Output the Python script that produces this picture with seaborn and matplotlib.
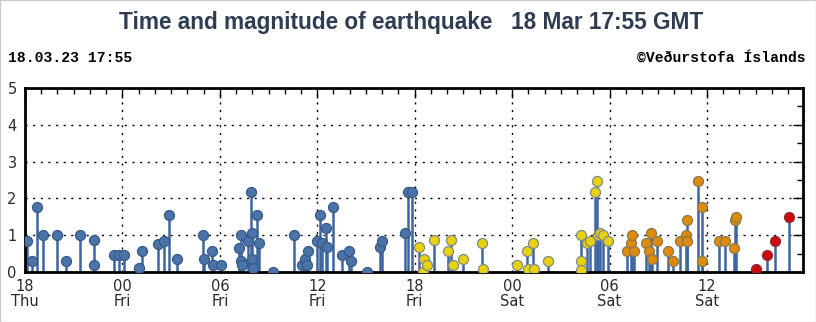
import matplotlib
matplotlib.use("Agg")
import matplotlib.pyplot as plt
import matplotlib.dates as mdates
from matplotlib.ticker import MultipleLocator
import seaborn as sns
import pandas as pd

# ---- data ----
event_times = [
    "2023-03-16 18:06", "2023-03-16 18:25", "2023-03-16 18:43", "2023-03-16 19:05",
    "2023-03-16 19:57", "2023-03-16 20:30", "2023-03-16 21:23", "2023-03-16 22:15",
    "2023-03-16 22:16", "2023-03-16 23:30", "2023-03-16 23:47", "2023-03-17 00:06",
    "2023-03-17 01:00", "2023-03-17 01:11", "2023-03-17 02:11", "2023-03-17 02:34",
    "2023-03-17 02:52", "2023-03-17 03:20", "2023-03-17 04:59", "2023-03-17 05:03",
    "2023-03-17 05:32", "2023-03-17 05:36", "2023-03-17 06:04", "2023-03-17 07:11",
    "2023-03-17 07:17", "2023-03-17 07:18", "2023-03-17 07:23", "2023-03-17 07:45",
    "2023-03-17 07:57", "2023-03-17 07:58", "2023-03-17 08:00", "2023-03-17 08:01",
    "2023-03-17 08:18", "2023-03-17 08:25", "2023-03-17 09:15", "2023-03-17 10:35",
    "2023-03-17 11:02", "2023-03-17 11:14", "2023-03-17 11:21", "2023-03-17 11:27",
    "2023-03-17 11:58", "2023-03-17 12:10", "2023-03-17 12:16", "2023-03-17 12:32",
    "2023-03-17 12:35", "2023-03-17 12:59", "2023-03-17 13:32", "2023-03-17 13:57",
    "2023-03-17 14:03", "2023-03-17 15:02", "2023-03-17 15:52", "2023-03-17 15:58",
    "2023-03-17 17:26", "2023-03-17 17:34", "2023-03-17 17:51",
    "2023-03-17 18:16", "2023-03-17 18:31", "2023-03-17 18:34", "2023-03-17 18:44",
    "2023-03-17 19:11", "2023-03-17 20:02", "2023-03-17 20:13", "2023-03-17 20:22",
    "2023-03-17 20:57", "2023-03-17 22:10", "2023-03-17 22:13", "2023-03-18 00:17",
    "2023-03-18 00:56", "2023-03-18 00:59", "2023-03-18 01:18", "2023-03-18 01:22",
    "2023-03-18 02:12", "2023-03-18 04:14", "2023-03-18 04:15", "2023-03-18 04:16",
    "2023-03-18 04:35", "2023-03-18 04:47", "2023-03-18 05:06", "2023-03-18 05:12",
    "2023-03-18 05:18", "2023-03-18 05:24", "2023-03-18 05:36", "2023-03-18 05:54",
    "2023-03-18 07:05", "2023-03-18 07:18", "2023-03-18 07:24", "2023-03-18 07:31",
    "2023-03-18 08:14", "2023-03-18 08:25", "2023-03-18 08:35", "2023-03-18 08:38",
    "2023-03-18 08:54", "2023-03-18 09:37", "2023-03-18 09:53", "2023-03-18 10:20",
    "2023-03-18 10:41", "2023-03-18 10:45", "2023-03-18 10:48", "2023-03-18 11:28",
    "2023-03-18 11:40", "2023-03-18 11:41", "2023-03-18 12:44", "2023-03-18 13:07",
    "2023-03-18 13:41", "2023-03-18 13:42", "2023-03-18 13:47",
    "2023-03-18 15:03", "2023-03-18 15:43", "2023-03-18 16:11", "2023-03-18 17:04",
]
magnitudes = [
    0.85, 0.30, 1.76, 1.00, 1.00, 0.30, 1.00, 0.87, 0.18, 0.45, 0.45, 0.45,
    0.10, 0.58, 0.77, 0.84, 1.56, 0.36, 1.00, 0.36, 0.58, 0.18, 0.18, 0.65,
    1.00, 0.30, 0.18, 0.85, 2.18, 1.06, 0.34, 0.10, 1.56, 0.78, 0.00, 1.00,
    0.20, 0.34, 0.20, 0.58, 0.85, 1.56, 0.79, 1.20, 0.67, 1.76, 0.45, 0.58,
    0.30, 0.00, 0.67, 0.85, 1.06, 2.18, 2.18,
    0.67, 0.00, 0.36, 0.18, 0.86, 0.58, 0.86, 0.18, 0.36, 0.79, 0.08, 0.18,
    0.58, 0.08, 0.79, 0.08, 0.30, 1.00, 0.30, 0.06, 0.79, 0.85, 2.18, 2.47,
    1.00, 1.06, 1.00, 0.85,
    0.58, 0.79, 1.00, 0.58, 0.79, 0.58, 1.06, 0.36, 0.85, 0.58, 0.30, 0.85,
    1.00, 0.85, 1.40, 2.47, 1.76, 0.30, 0.85, 0.85, 0.65, 1.40, 1.49,
    0.08, 0.45, 0.85, 1.49,
]
now_str = "2023-03-18 17:55"
start_str = "2023-03-16 18:00"
age_labels = ["> 24 h", "12-24 h", "4-12 h", "< 4 h"]
age_colors = ["#4a74a8", "#e8d30a", "#de8a0c", "#cc0a0a"]
age_edges = ["#37598a", "#7f8a8a", "#8a7a50", "#8a3040"]
title_text = "Time and magnitude of earthquake   18 Mar 17:55 GMT"
left_note = "18.03.23 17:55"
right_note = "\u00a9Ve\u00f0urstofa \u00cdslands"

# ---- build frame ----
df = pd.DataFrame({"time": pd.to_datetime(event_times), "mag": magnitudes})
now = pd.Timestamp(now_str)
age_h = (now - df["time"]).dt.total_seconds() / 3600.0
df["age"] = pd.cut(age_h, bins=[-1, 4, 12, 24, 1000],
                   labels=["< 4 h", "4-12 h", "12-24 h", "> 24 h"]).astype(str)

sns.set_style("white")
plt.rcParams["font.family"] = ["DejaVu Sans"]

fig = plt.figure(figsize=(8.16, 3.22), dpi=100)
fig.patch.set_facecolor("white")
ax = fig.add_axes([25 / 816, 1 - 272 / 322, (803 - 25) / 816, (272 - 88) / 322])

# stems
ax.vlines(df["time"], 0, df["mag"], colors="#3d65a0", linewidth=1.8, zorder=2)

# markers, one group at a time so the edge colours differ
for lab, col, edg in zip(age_labels, age_colors, age_edges):
    sub = df[df["age"] == lab]
    if len(sub):
        sns.scatterplot(data=sub, x="time", y="mag", ax=ax, color=col,
                        edgecolor=edg, linewidth=0.9, s=52, zorder=3, legend=False)

ax.set_xlim(pd.Timestamp(start_str), now)
ax.set_ylim(0, 5)
ax.set_xlabel("")
ax.set_ylabel("")

ax.xaxis.set_major_locator(mdates.HourLocator(byhour=[0, 6, 12, 18]))
ax.xaxis.set_minor_locator(mdates.HourLocator())
ax.xaxis.set_major_formatter(mdates.DateFormatter("%H\n%a"))
ax.yaxis.set_major_locator(MultipleLocator(1))
ax.yaxis.set_minor_locator(MultipleLocator(0.5))

ax.tick_params(axis="both", which="both", direction="in", top=True, right=True,
               colors="black", labelcolor="#2a2a2a", labelsize=10.5)
ax.tick_params(axis="both", which="major", length=7, width=1)
ax.tick_params(axis="both", which="minor", length=4, width=1)
ax.tick_params(axis="x", pad=5)
ax.tick_params(axis="y", pad=6)
for lbl in ax.get_xticklabels():
    lbl.set_linespacing(1.0)

ax.grid(True, which="major", color="black", linestyle=(0, (1.5, 4)), linewidth=1)
for sp in ax.spines.values():
    sp.set_linewidth(2)
    sp.set_color("black")

fig.text(411 / 816, 1 - 22 / 322, title_text, ha="center", va="center",
         fontsize=16.3, fontweight="bold", color="#2e3d52",
         family=["Liberation Sans", "DejaVu Sans"])
fig.text(8 / 816, 1 - 58 / 322, left_note, ha="left", va="center",
         fontsize=10.6, fontweight="bold", color="black",
         family=["Liberation Mono", "DejaVu Sans Mono"])
fig.text(806 / 816, 1 - 58 / 322, right_note, ha="right", va="center",
         fontsize=10.6, fontweight="bold", color="black",
         family=["Liberation Mono", "DejaVu Sans Mono"])

fig.patches.append(plt.Rectangle((0, 0), 1, 1, transform=fig.transFigure,
                                 fill=False, edgecolor="#cccccc", linewidth=1))

fig.savefig("out.png", dpi=100)
